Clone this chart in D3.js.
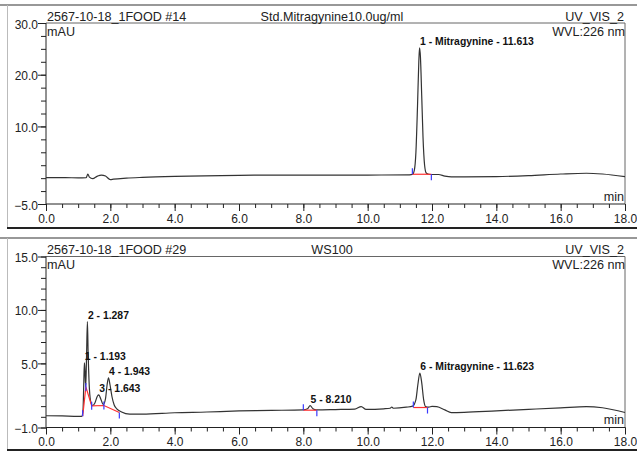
<!DOCTYPE html>
<html>
<head>
<meta charset="utf-8">
<script src="https://cdn.jsdelivr.net/npm/d3@7"></script>
<style>
  body { margin: 0; background: #fff; }
  svg { display: block; font-family: "Liberation Sans", Arial, sans-serif; }
  .tick text { font-size: 12px; fill: #222; }
  .axis path, .axis line { stroke: #222; }
  .peak-label { font-size: 10.4px; font-weight: bold; fill: #111; }
  .title { font-size: 12.6px; fill: #222; }
</style>
</head>
<body>
<div id="chart"></div>
<script>
// ---- data ----
var xTickLabels = ["0.0", "2.0", "4.0", "6.0", "8.0", "10.0", "12.0", "14.0", "16.0", "18.0"];

// Std.Mitragynine 10.0 ug/ml : [time min, mAU]
var stdTrace = [
  [0.0, 0.1], [0.6, 0.1], [1.0, 0.05], [1.25, 0.1], [1.3, 0.8], [1.35, 0.2], [1.45, -0.1],
  [1.6, 0.4], [1.72, 0.6], [1.85, 0.4], [2.0, -0.3], [2.1, -0.2], [2.5, 0.0], [3.0, 0.15],
  [4.0, 0.35], [6.0, 0.55], [8.0, 0.6], [10.0, 0.6], [11.3, 0.65], [11.4, 0.75], [11.45, 1.5],
  [11.5, 5.0], [11.55, 14.0], [11.59, 22.5], [11.613, 25.2], [11.64, 23.5], [11.68, 16.0],
  [11.72, 8.0], [11.77, 2.5], [11.82, 1.0], [11.9, 0.75], [12.0, 0.7], [12.2, 0.7],
  [12.4, 0.4], [12.6, 0.25], [13.0, 0.25], [14.0, 0.3], [15.0, 0.5], [16.0, 0.8],
  [16.8, 0.95], [17.3, 0.8], [18.0, 0.3]
];

// WS100 : [time min, mAU]
var wsTrace = [
  [0.0, 0.1], [0.5, 0.08], [1.0, 0.05], [1.11, 0.05], [1.15, 0.6], [1.175, 3.2], [1.193, 5.05],
  [1.21, 4.4], [1.235, 2.8], [1.26, 5.6], [1.287, 8.9], [1.31, 6.0], [1.35, 2.6], [1.4, 1.3],
  [1.45, 1.05], [1.52, 1.3], [1.6, 1.95], [1.643, 2.05], [1.7, 1.7], [1.78, 1.15], [1.85, 1.7],
  [1.9, 3.0], [1.943, 3.65], [1.99, 3.0], [2.05, 1.9], [2.12, 1.1], [2.2, 0.75], [2.35, 0.45],
  [2.6, 0.25], [3.0, 0.25], [4.0, 0.38], [5.0, 0.45], [6.0, 0.55], [7.0, 0.6], [8.0, 0.65],
  [8.13, 0.75], [8.21, 1.05], [8.3, 0.75], [8.4, 0.65], [9.0, 0.68], [9.6, 0.72], [9.8, 0.96],
  [9.95, 0.7], [10.5, 0.75], [10.7, 0.8], [10.75, 0.92], [10.8, 0.8], [11.2, 0.9], [11.4, 1.0],
  [11.5, 1.6], [11.56, 3.0], [11.623, 4.1], [11.68, 3.2], [11.74, 1.6], [11.8, 0.95],
  [11.9, 0.9], [12.0, 0.98], [12.15, 0.95], [12.4, 0.65], [12.6, 0.4], [13.0, 0.42],
  [14.0, 0.56], [15.0, 0.7], [16.0, 0.84], [16.8, 0.96], [17.3, 0.85], [18.0, 0.4]
];

var stdPeaks = [
  { t: 11.613, h: 25.2, label: "1 - Mitragynine - 11.613" }
];
var wsPeaks = [
  { t: 1.193, h: 5.05, label: "1 - 1.193" },
  { t: 1.287, h: 8.9, label: "2 - 1.287" },
  { t: 1.643, h: 2.05, label: "3 - 1.643" },
  { t: 1.943, h: 3.65, label: "4 - 1.943" },
  { t: 8.210, h: 1.05, label: "5 - 8.210" },
  { t: 11.623, h: 4.1, label: "6 - Mitragynine - 11.623" }
];

// integration baselines (red) with delimiter markers (blue)
var stdBaselines = [
  [[11.39, 0.75], [11.98, 0.75]]
];
var wsBaselines = [
  [[1.14, 0.05], [1.24, 2.8], [1.42, 1.03], [1.8, 1.06], [2.28, 0.4]],
  [[8.0, 0.62], [8.42, 0.62]],
  [[11.42, 0.87], [11.86, 0.87]]
];

var panels = [
  {
    top: 5, bottom: 228, plotTop: 23, plotBottom: 204, right: 625,
    y: [-5, 30], yMajor: [30, 20, 10, -5], yMinorStep: 2.5,
    file: "2567-10-18_1FOOD #14", sample: "Std.Mitragynine10.0ug/ml",
    trace: stdTrace, peaks: stdPeaks, baselines: stdBaselines
  },
  {
    top: 238, bottom: 450, plotTop: 256.5, plotBottom: 427.5, right: 625,
    y: [-1, 15], yMajor: [15, 10, 5, -1], yMinorStep: 1,
    file: "2567-10-18_1FOOD #29", sample: "WS100",
    trace: wsTrace, peaks: wsPeaks, baselines: wsBaselines
  }
];

var W = 637, H = 452, LEFT = 46;

var svg = d3.select("#chart").append("svg")
  .attr("width", W)
  .attr("height", H);

panels.forEach(function(p) {
  var g = svg.append("g");

  var x = d3.scaleLinear().domain([0, 18]).range([LEFT, p.right]);
  var y = d3.scaleLinear().domain(p.y).range([p.plotBottom, p.plotTop]);

  // outer frame
  g.append("line").attr("x1", 0).attr("x2", W).attr("y1", p.top).attr("y2", p.top)
    .attr("stroke", "#333").attr("stroke-width", 1.2);
  g.append("line").attr("x1", 7.5).attr("x2", 7.5).attr("y1", p.top).attr("y2", p.bottom)
    .attr("stroke", "#bbb").attr("stroke-width", 1);
  g.append("line").attr("x1", 7).attr("x2", W).attr("y1", p.bottom).attr("y2", p.bottom)
    .attr("stroke", "#222").attr("stroke-width", 2);

  // plot box top/right
  g.append("path")
    .attr("d", "M" + LEFT + "," + p.plotTop + "H" + p.right + "V" + p.plotBottom)
    .attr("fill", "none").attr("stroke", "#666").attr("stroke-width", 1);

  // titles
  g.append("text").attr("class", "title").attr("x", 47).attr("y", p.plotTop - 2.5).text(p.file);
  g.append("text").attr("class", "title").attr("x", 332).attr("y", p.plotTop - 2.5)
    .attr("text-anchor", "middle").text(p.sample);
  g.append("text").attr("class", "title").attr("x", p.right - 1).attr("y", p.plotTop - 2.5)
    .attr("text-anchor", "end").text("UV_VIS_2");
  g.append("text").attr("class", "title").attr("x", p.right).attr("y", p.plotTop + 12.5)
    .attr("text-anchor", "end").text("WVL:226 nm");
  g.append("text").attr("class", "title").attr("x", 47).attr("y", p.plotTop + 12.5).text("mAU");
  g.append("text").attr("class", "title").attr("x", p.right - 1).attr("y", p.plotBottom - 3.5)
    .attr("text-anchor", "end").text("min");

  // y axis: minor + major
  var yMinor = d3.range(p.y[0], p.y[1] + 0.001, p.yMinorStep);
  g.append("g").attr("class", "axis")
    .attr("transform", "translate(" + LEFT + ",0)")
    .call(d3.axisLeft(y).tickValues(yMinor).tickSize(5).tickFormat(""))
    .call(function(s) { s.select(".domain").remove(); });
  g.append("g").attr("class", "axis")
    .attr("transform", "translate(" + LEFT + ",0)")
    .call(d3.axisLeft(y).tickValues(p.yMajor).tickSize(8).tickPadding(0)
      .tickFormat(function(d) { return d3.format(".1f")(d); }))
    .call(function(s) {
      s.select(".domain").attr("d", "M0," + p.plotTop + "V" + p.plotBottom);
      s.selectAll(".tick text").attr("dy", "0.42em");
    });

  // x axis: minor + major
  g.append("g").attr("class", "axis")
    .attr("transform", "translate(0," + p.plotBottom + ")")
    .call(d3.axisBottom(x).tickValues(d3.range(0, 18.01, 0.5)).tickSize(4).tickFormat(""))
    .call(function(s) { s.select(".domain").remove(); });
  g.append("g").attr("class", "axis")
    .attr("transform", "translate(0," + p.plotBottom + ")")
    .call(d3.axisBottom(x).tickValues(d3.range(0, 18.01, 2)).tickSize(7).tickPadding(3)
      .tickFormat(function(d, i) { return xTickLabels[i]; }))
    .call(function(s) {
      s.select(".domain").attr("d", "M" + LEFT + ",0H" + p.right);
    });

  // trace
  var line = d3.line()
    .x(function(d) { return x(d[0]); })
    .y(function(d) { return y(d[1]); })
    .curve(d3.curveMonotoneX);

  g.append("path").datum(p.trace)
    .attr("d", line)
    .attr("fill", "none")
    .attr("stroke", "#333")
    .attr("stroke-width", 1.2);

  // integration baselines
  var bl = d3.line()
    .x(function(d) { return x(d[0]); })
    .y(function(d) { return y(d[1]); });

  p.baselines.forEach(function(seg) {
    g.append("path").datum(seg)
      .attr("d", bl)
      .attr("fill", "none")
      .attr("stroke", "#ff3030")
      .attr("stroke-width", 1.2);

    g.selectAll(null).data(seg).enter().append("line")
      .attr("x1", function(d) { return x(d[0]); })
      .attr("x2", function(d) { return x(d[0]); })
      .attr("y1", function(d, i) {
        if (i === 0) return y(d[1]) - 6;
        if (i === seg.length - 1) return y(d[1]);
        return y(d[1]) - 4;
      })
      .attr("y2", function(d, i) {
        if (i === 0) return y(d[1]);
        if (i === seg.length - 1) return y(d[1]) + 6;
        return y(d[1]) + 4;
      })
      .attr("stroke", "#3a3aff")
      .attr("stroke-width", 1.2);
  });

  // peak labels
  g.selectAll(".peak-label").data(p.peaks).enter().append("text")
    .attr("class", "peak-label")
    .attr("x", function(d) { return x(d.t) + 0.5; })
    .attr("y", function(d) { return y(d.h) - 2.5; })
    .text(function(d) { return d.label; });
});
</script>
</body>
</html>
